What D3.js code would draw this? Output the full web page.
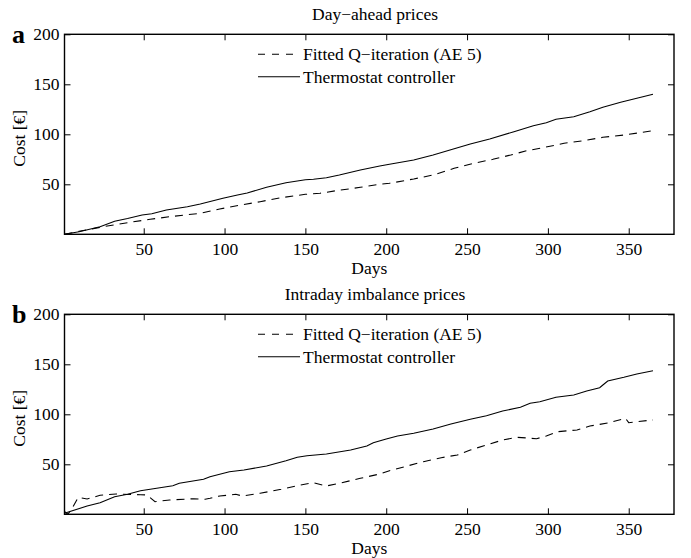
<!DOCTYPE html>
<html>
<head>
<meta charset="utf-8">
<script src="https://cdn.jsdelivr.net/npm/d3@7/dist/d3.min.js"></script>
<style>
  html, body { margin: 0; padding: 0; background: #fff; }
  svg text { font-family: "Liberation Serif", "Times New Roman", serif; fill: #000; }
</style>
</head>
<body>
<svg id="chart" width="691" height="558"></svg>
<script>
// ---- Data ----
const xTicks = [50, 100, 150, 200, 250, 300, 350];
const yTicks = [50, 100, 150, 200];
const seriesNames = ["Fitted Q\u2212iteration (AE 5)", "Thermostat controller"];
const panelTitles = ["Day\u2212ahead prices", "Intraday imbalance prices"];
const panelLetters = ["a", "b"];

// Panel a: day-ahead prices
const daysA_thermo = [1, 10, 23, 32, 40, 49, 55, 64, 77, 85, 99, 108, 114, 126, 138, 150, 155, 163, 171, 184, 196, 202, 217, 229, 241, 252, 264, 279, 291, 299, 305, 316, 326, 334, 345, 355, 365];
const costA_thermo = [0, 2.5, 7.6, 13, 15.8, 19.3, 20.5, 24.3, 27.6, 30.3, 36, 39.3, 41.3, 47, 51.6, 54.5, 55, 56.6, 59.3, 64.3, 68.3, 70, 74.3, 79.3, 85, 90.3, 95.3, 102.6, 108.6, 111.6, 115, 117.6, 122.6, 127, 132, 136, 140];
const daysA_fqi = [1, 10, 25, 40, 54, 66, 85, 97, 110, 122, 135, 150, 159, 169, 184, 196, 202, 217, 229, 242, 254, 266, 277, 287, 297, 310, 322, 334, 347, 357, 365];
const costA_fqi = [0, 3, 7.6, 11.6, 15, 17.6, 21, 25.3, 29.3, 32.6, 36.6, 40, 41, 43.6, 47, 50, 51, 55.3, 59.3, 66, 71, 75, 79.3, 83.6, 86.6, 91, 93.6, 97, 99.3, 101.6, 103.6];

// Panel b: intraday imbalance prices
const daysB_thermo = [1, 15, 23, 32, 40, 48, 54, 68, 72, 87, 91, 103, 112, 126, 138, 145, 151, 163, 178, 188, 192, 200, 207, 217, 229, 240, 252, 262, 272, 283, 289, 295, 305, 316, 324, 332, 334, 337, 347, 355, 365];
const costB_thermo = [1, 8.3, 11.6, 17.6, 20, 23.6, 25, 28.6, 31, 35, 37.6, 42.6, 44.3, 48.3, 53.6, 57, 58.6, 60.3, 64.3, 68.3, 71.6, 75.3, 78.3, 81, 85.3, 90.3, 95, 98.6, 103.3, 107, 111, 112.6, 117, 119.3, 123.3, 126.6, 129.3, 133.3, 137, 140.3, 143.6];
const daysB_fqi = [1, 3, 5, 9.5, 15, 23, 33, 48, 52, 57, 66, 81, 88, 91, 97, 107, 111, 122, 135, 147, 155, 163, 171, 184, 196, 202, 213, 223, 234, 244, 252, 262, 272, 281, 293, 299, 306, 318, 326, 338, 348, 350, 355, 365];
const costB_fqi = [3, 0, 4, 17, 15.3, 19, 20.3, 19.6, 19.3, 12.6, 14.3, 15.6, 15, 16, 18.3, 20, 18.3, 21, 25, 29.3, 31.6, 28.3, 31, 36, 40.3, 43.6, 48.3, 52.6, 56.6, 59.3, 64.3, 69.3, 74.3, 77, 75.6, 78.3, 82.6, 84.3, 88.3, 91.6, 96, 91.6, 92.6, 94.3];

const panels = [
  { fqi: [daysA_fqi, costA_fqi], thermo: [daysA_thermo, costA_thermo] },
  { fqi: [daysB_fqi, costB_fqi], thermo: [daysB_thermo, costB_thermo] }
];

// ---- Layout ----
const svg = d3.select("#chart");
const left = 64.5, right = 674;
const panelTop = [34.3, 314.3];
const plotH = 200;
const FS = 17.5;

const x = d3.scaleLinear().domain([1, 378]).range([left, right]);

panels.forEach((p, i) => {
  const top = panelTop[i];
  const y = d3.scaleLinear().domain([0, 200]).range([top + plotH, top]);
  const g = svg.append("g");

  // axes with inward ticks on all four sides
  const axB = g.append("g").attr("transform", `translate(0,${top + plotH})`)
    .call(d3.axisBottom(x).tickValues(xTicks).tickSizeInner(-6).tickSizeOuter(0).tickPadding(8));
  const axT = g.append("g").attr("transform", `translate(0,${top})`)
    .call(d3.axisTop(x).tickValues(xTicks).tickSizeInner(-6).tickSizeOuter(0).tickFormat(""));
  const axL = g.append("g").attr("transform", `translate(${left},0)`)
    .call(d3.axisLeft(y).tickValues(yTicks).tickSizeInner(-6).tickSizeOuter(0).tickPadding(5));
  const axR = g.append("g").attr("transform", `translate(${right},0)`)
    .call(d3.axisRight(y).tickValues(yTicks).tickSizeInner(-6).tickSizeOuter(0).tickFormat(""));
  [axB, axT, axL, axR].forEach(a => {
    a.select(".domain").remove();
    a.selectAll(".tick line").attr("stroke", "#000").attr("stroke-width", 1);
    a.selectAll(".tick text").attr("font-size", FS).attr("font-family", "Liberation Serif").attr("fill", "#000");
  });

  g.append("rect").attr("x", left).attr("y", top).attr("width", right - left).attr("height", plotH)
    .attr("fill", "none").attr("stroke", "#000").attr("stroke-width", 1.4);

  const line = d3.line().x(d => x(d[0])).y(d => y(d[1]));
  const toPts = arr => arr[0].map((d, k) => [d, arr[1][k]]);

  g.append("path").datum(toPts(p.thermo)).attr("d", line)
    .attr("fill", "none").attr("stroke", "#000").attr("stroke-width", 1.1);
  g.append("path").datum(toPts(p.fqi)).attr("d", line)
    .attr("fill", "none").attr("stroke", "#000").attr("stroke-width", 1.1)
    .attr("stroke-dasharray", "8,6");

  // title
  svg.append("text").attr("x", 375).attr("y", top - 14)
    .attr("text-anchor", "middle").attr("font-size", FS).text(panelTitles[i]);
  // panel letter
  svg.append("text").attr("x", 12).attr("y", top + 8.5)
    .attr("font-size", 26).attr("font-weight", "bold").text(panelLetters[i]);
  // y label
  svg.append("text").attr("transform", `translate(25,${top + plotH / 2 + 4}) rotate(-90)`)
    .attr("text-anchor", "middle").attr("font-size", FS).text("Cost [\u20ac]");
  // x label
  svg.append("text").attr("x", (left + right) / 2).attr("y", top + plotH + 39.5)
    .attr("text-anchor", "middle").attr("font-size", FS).text("Days");

  // legend
  const lg = svg.append("g");
  const ly = [top + 20, top + 42.4];
  lg.append("line").attr("x1", 258).attr("x2", 300).attr("y1", ly[0]).attr("y2", ly[0])
    .attr("stroke", "#000").attr("stroke-width", 1.1).attr("stroke-dasharray", "7,7");
  lg.append("line").attr("x1", 258).attr("x2", 300).attr("y1", ly[1]).attr("y2", ly[1])
    .attr("stroke", "#000").attr("stroke-width", 1.1);
  seriesNames.forEach((s, k) => {
    lg.append("text").attr("x", 303).attr("y", ly[k] + 6).attr("font-size", FS).text(s);
  });
});
</script>
</body>
</html>
